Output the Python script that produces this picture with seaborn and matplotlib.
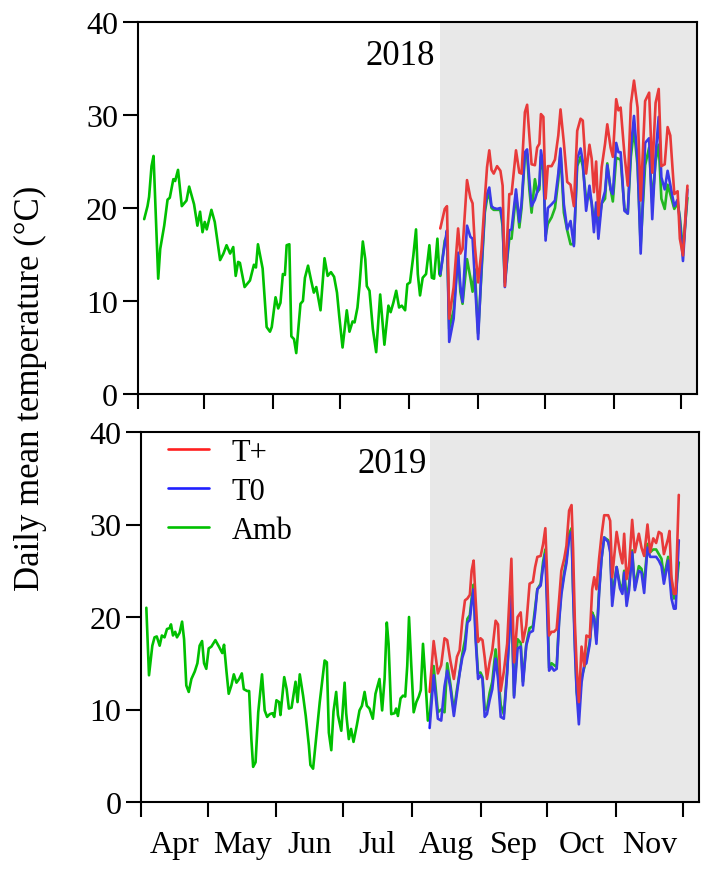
import matplotlib
matplotlib.use("Agg")
import matplotlib.pyplot as plt
import seaborn as sns
import pandas as pd

# x axis = days since 1 April
months = ["Apr", "May", "Jun", "Jul", "Aug", "Sep", "Oct", "Nov"]
month_starts = [0, 30, 61, 91, 122, 153, 183, 214, 244]
month_mids = [15, 45.5, 76, 106.5, 137.5, 168, 198.5, 229]

# ---------------- 2018 ----------------
amb18_pre_day = [3.0, 4.5, 5.2, 6.3, 7.2, 9.3, 10.2, 12, 13.5, 14.5, 16.1, 16.9, 18.2, 19.9, 22,
                 23.2, 25.4, 26.9, 28.1, 29.2, 30.2, 31.1, 33.2, 34.7, 37.1, 38.6, 40, 41.6, 43,
                 44.1, 45.2, 46, 48.1, 50.5, 52.3, 53.2, 54.1, 56.2, 58, 59.5, 60.3, 62, 63.2, 64.2,
                 65.3, 66.2, 67, 68.2, 69.1, 70.3, 71.3, 73.2, 74.3, 75.2, 76.6, 78, 79.2, 80.3,
                 82.2, 84, 85.4, 86.9, 88.3, 89.6, 90.6, 92.1, 94, 95.2, 96.6, 97.5, 98.8, 99.7,
                 101.2, 102.3, 103, 104.2, 105.7, 107.2, 109, 110.9, 112.7, 113.7, 114.9, 116.2,
                 117.5, 118.7, 120.2, 121.2, 122.4, 123.9, 125.1, 125.9, 126.9, 128.1, 129.6,
                 131.1, 132.2, 133.2, 134.7, 135.6]
amb18_pre = [18.8, 20.2, 21.2, 24.5, 25.6, 12.4, 15.6, 18.1, 20.9, 21.1, 23.1, 22.9, 24.1, 20.2, 20.8,
             22.3, 20.4, 18.1, 19.6, 17.4, 18.5, 17.7, 19.8, 18.5, 14.4, 15.1, 16.0, 15.1, 15.8,
             12.7, 14.2, 14.1, 11.5, 12.2, 13.9, 13.6, 16.1, 13.5, 7.2, 6.7, 7.2, 10.4, 9.2, 9.8,
             12.9, 12.8, 16.0, 16.1, 6.2, 5.9, 4.4, 9.7, 10.0, 12.5, 13.8, 12.2, 10.9, 11.5,
             9.0, 14.6, 12.7, 13.1, 12.6, 10.9, 8.4, 5.0, 9.0, 6.7, 7.8, 7.7, 9.3, 11.6,
             16.4, 14.5, 11.6, 11.1, 7.0, 4.5, 10.7, 5.3, 9.5, 8.8, 9.8, 11.1,
             9.3, 9.5, 9.0, 11.8, 12.0, 14.9, 17.7, 12.9, 10.6, 12.5, 12.9,
             16.0, 12.5, 12.4, 16.7, 12.9]

warm18_day = [136, 138, 139, 140, 142, 144, 145, 146, 148, 149.5, 150.5, 151.5, 153, 154.5, 156,
              157, 158, 159, 160, 161.5, 163, 164, 165, 167, 168, 170, 171.5, 172.5, 174, 175,
              176, 177, 178.5, 179.5, 180.5, 181.2, 182.3, 183.3, 184.3, 186, 187.5, 189, 190,
              191.5, 193, 194.5, 196, 197.5, 199, 200, 201.5, 203, 204, 205, 206, 207, 208.5,
              210, 211, 212.5, 213.5, 215, 216, 217, 218.7, 220.2, 221.6, 223, 224.6, 226, 228,
              229.8, 231.2, 232.7, 234.1, 235.3, 236.8, 238.1, 239.3, 241.1, 242.6, 243.6, 245, 247]
tplus18 = [17.8, 19.9, 20.2, 8.1, 11.5, 17.8, 15.1, 15.6, 23.0, 21.1, 20.5, 16.0, 12.0, 15.5, 21.0,
           24.4, 26.2, 24.1, 23.7, 24.5, 24.0, 22.4, 11.6, 21.5, 21.5, 26.2, 23.8, 23.7, 30.3, 31.1,
           27.8, 24.7, 24.6, 26.5, 26.9, 30.1, 29.8, 21.0, 24.5, 24.5, 25.2, 27.8, 30.6,
           27.0, 22.8, 22.5, 20.2, 28.3, 29.6, 29.4, 23.7, 26.8, 25.3, 21.7, 25.0, 19.2, 24.4,
           26.9, 29.0, 26.5, 25.5, 31.7, 30.5, 30.8, 25.8, 22.4, 31.2, 33.7, 30.8, 20.8, 31.5,
           32.4, 23.8, 31.3, 32.8, 24.5, 24.7, 28.7, 27.8, 21.5, 21.8, 16.7, 14.9, 22.4]
t018 = [12.9, 16.1, 17.6, 5.6, 8.1, 15.2, 11.6, 9.9, 18.1, 16.9, 16.7, 12.4, 5.9, 13.5, 20.0,
        21.5, 22.2, 20.2, 20.0, 19.9, 20.0, 18.5, 11.5, 17.6, 17.7, 22.0, 18.5, 20.5, 26.0, 26.3,
        23.0, 20.2, 20.9, 21.7, 22.5, 26.2, 24.5, 16.5, 20.0, 20.4, 20.8, 23.7, 26.4,
        20.4, 17.7, 18.6, 15.9, 25.3, 26.4, 25.0, 19.7, 22.4, 20.5, 17.4, 20.6, 16.7, 20.5,
        21.8, 24.6, 22.0, 21.5, 27.0, 26.0, 26.0, 19.7, 19.4, 26.5, 29.9, 25.1, 15.1, 27.0,
        27.5, 18.8, 25.7, 29.8, 23.3, 22.0, 24.0, 22.5, 20.2, 20.9, 18.6, 14.3, 22.0]
amb18_warm = [12.7, 16.5, 17.0, 7.0, 9.0, 15.0, 11.0, 9.7, 14.5, 12.5, 11.0, 13.4, 6.5, 13.0, 19.5,
              21.0, 21.5, 20.0, 19.8, 19.8, 19.8, 18.0, 12.0, 16.7, 16.7, 21.5, 17.9, 20.0, 25.6, 25.8,
              22.0, 19.5, 23.1, 21.7, 22.0, 25.5, 24.0, 17.0, 18.3, 19.0, 20.0, 23.0, 26.0,
              19.5, 17.6, 16.1, 16.1, 24.5, 25.5, 24.5, 20.9, 21.5, 20.5, 18.5, 20.0, 18.0, 20.5,
              21.0, 24.8, 22.0, 20.7, 25.4, 25.3, 25.2, 20.0, 19.4, 25.5, 28.5, 24.5, 16.0, 24.6,
              26.5, 20.5, 25.0, 26.8, 21.0, 19.9, 22.5, 21.5, 19.9, 20.5, 19.0, 15.4, 21.1]
shade18_start = 136

# ---------------- 2019 ----------------
amb19_pre_day = [2.4, 3.6, 5.1, 6.1, 7.1, 8.4, 9.4, 10.6, 11.7, 12.9, 13.5, 14.4, 15.4, 16.2, 17.4,
                 18.5, 19.4, 20.4, 21.5, 22.7, 24.2, 25.4, 26.4, 27.5, 28.4, 29.4, 30.5, 31.7,
                 33.5, 35.1, 36.6, 37.4, 38.5, 39.5, 40.7, 41.8, 43, 44.2, 45.4, 46.3, 47.8, 48.7,
                 49.7, 50.5, 51.6, 52.8, 54.5, 55.7, 56.8, 58, 59.2, 60, 61, 62.2, 62.8, 64.5,
                 65.6, 66.6, 67.8, 69.6, 70.5, 71.5, 73, 74.2, 75.6, 76.3, 77.5, 79, 80.5, 82.7,
                 83.7, 84.6, 85.7, 86.7, 87.9, 88.7, 90.2, 91.7, 92.4, 93.6, 94.6, 95.7, 97.2,
                 98.4, 99.5, 100.7, 101.7, 102.9, 104.4, 105.6, 107.4, 108.6, 109.7, 110.7,
                 111.5, 112.7, 114.2, 114.9, 115.7, 116.9, 118, 119, 119.9, 120.7, 121.7, 122.8,
                 124, 125.1, 126, 127, 128.2, 129.2]
amb19_pre = [21.0, 13.7, 16.9, 17.8, 17.9, 16.9, 18.0, 17.8, 18.7, 18.8, 19.2, 18.0, 18.4, 17.8, 18.3,
             19.5, 17.6, 12.6, 11.9, 13.3, 14.1, 15.0, 16.9, 17.4, 15.0, 14.4, 16.6, 16.8,
             17.5, 16.8, 16.1, 17.0, 14.1, 11.7, 12.6, 13.8, 12.9, 13.3, 13.9, 12.2, 12.0, 12.0,
             6.8, 3.8, 4.3, 9.7, 13.8, 9.9, 9.2, 9.5, 9.6, 9.2, 11.0, 10.8, 9.4, 13.5,
             12.2, 10.1, 10.2, 13.0, 10.8, 13.8, 11.5, 9.3, 6.1, 4.0, 3.6, 7.2, 10.8, 15.3,
             15.1, 7.5, 5.6, 9.8, 11.9, 9.4, 7.7, 12.9, 9.6, 6.8, 7.9, 6.5, 8.3,
             9.9, 10.4, 11.9, 10.4, 10.1, 9.0, 11.7, 13.3, 9.9, 13.3, 19.4,
             17.1, 9.5, 9.6, 10.1, 9.3, 11.2, 11.5, 11.4, 14.7, 20.0, 14.9, 9.7,
             10.8, 11.4, 12.1, 17.1, 12.7, 8.8]

warm19_day = [130, 131.8, 133.7, 135.2, 136.7, 137.9, 139.3, 140.9, 142.3, 143.5, 144.7, 145.9,
              147, 148.1, 148.9, 149.8, 150.7, 151.8, 152.9, 153.8, 154.8, 155.8, 157, 158.2,
              159.7, 160.8, 162, 163.4, 164.9, 166.8, 168, 169.6, 171, 172, 173.5, 175, 176.5,
              177.5, 178.5, 180, 181.1, 182.1, 183, 183.8, 184.9, 186, 187.2, 188.3, 189.3,
              190.6, 191.6, 192.8, 193.9, 194.6, 195.4, 196.2, 197.2, 198.4, 199.6, 200.6,
              202.1, 203.2, 204.1, 205.1, 206.3, 207.4, 208.6, 210.4, 211.3, 212.2, 214.2,
              215.7, 216.8, 217.6, 218.7, 219.8, 221.2, 222.4, 224.2, 225.4, 226.6, 228.1,
              229.3, 230.7, 232, 233.2, 234.4, 235.5, 237.4, 238, 238.9, 240, 240.8, 242.2]
tplus19 = [11.9, 17.4, 13.9, 14.8, 17.7, 17.5, 15.3, 13.3, 15.7, 16.4, 19.6, 21.8,
           22.0, 22.4, 25.0, 26.1, 21.9, 17.3, 17.7, 17.5, 15.6, 13.3, 15.1, 16.4,
           19.6, 19.2, 12.0, 14.1, 17.1, 26.3, 15.1, 20.0, 20.5, 17.3, 19.1, 23.6, 23.8,
           25.4, 26.5, 26.6, 27.9, 29.6, 24.0, 18.0, 18.4, 18.4, 18.7, 21.9, 25.0,
           26.3, 27.7, 31.5, 32.1, 27.3, 19.4, 14.7, 10.8, 16.8, 14.7, 18.0,
           17.8, 23.0, 24.3, 23.0, 26.3, 28.8, 31.0, 31.0, 30.4, 24.3, 29.2,
           27.0, 25.8, 29.0, 24.1, 25.5, 30.5, 27.0, 29.0, 27.5, 26.6, 30.0,
           27.0, 28.5, 28.0, 29.2, 29.0, 26.8, 28.5, 29.3, 24.3, 22.5, 22.5, 33.2]
t019 = [8.0, 13.7, 9.0, 8.8, 12.5, 14.2, 12.4, 9.3, 11.8, 13.9, 15.6, 16.5,
        19.4, 19.7, 21.5, 23.0, 17.6, 13.3, 13.7, 13.3, 9.2, 9.5, 11.0, 12.2,
        15.5, 13.3, 9.2, 9.0, 13.9, 22.3, 11.3, 16.6, 16.8, 12.6, 16.9, 18.3, 18.5,
        20.5, 23.0, 23.4, 25.5, 26.8, 20.0, 14.2, 14.6, 14.2, 14.4, 19.5, 22.4,
        24.5, 25.8, 28.5, 29.2, 22.7, 16.5, 11.9, 8.4, 12.9, 14.8, 15.0,
        17.1, 20.2, 19.8, 17.1, 22.5, 26.3, 28.6, 28.1, 27.0, 21.2, 25.4,
        23.1, 22.5, 24.8, 21.2, 22.9, 27.0, 22.9, 25.0, 24.8, 22.6, 27.5,
        26.5, 26.5, 26.5, 26.1, 25.5, 23.6, 26.1, 24.5, 22.0, 20.9, 20.9, 28.3]
amb19_warm = [9.0, 14.7, 9.7, 10.0, 9.7, 15.0, 12.8, 9.8, 12.2, 14.0, 16.0, 17.5,
              19.8, 20.2, 22.0, 23.5, 18.0, 13.9, 14.0, 13.5, 10.0, 10.0, 11.8, 13.0,
              16.5, 14.0, 10.5, 9.5, 14.2, 22.0, 11.5, 17.6, 17.2, 13.0, 17.0, 18.8, 19.0,
              21.0, 23.0, 23.6, 26.0, 27.3, 21.5, 14.5, 15.0, 14.8, 14.6, 19.8, 22.8,
              24.8, 26.2, 29.0, 29.6, 23.0, 17.5, 12.0, 10.0, 13.5, 14.5, 15.5,
              17.3, 20.5, 20.0, 17.5, 22.8, 26.3, 28.6, 28.3, 27.3, 22.3, 25.4,
              23.5, 23.0, 25.0, 22.0, 23.5, 27.2, 23.2, 25.5, 25.2, 23.5, 27.9,
              27.0, 27.3, 27.3, 26.8, 26.3, 24.3, 26.5, 25.5, 24.0, 22.0, 22.5, 25.9]
shade19_start = 130

colors = {"T+": "#FF2020", "T0": "#2020FF", "Amb": "#00C000"}


def draw_panel(ax, pre_day, pre_amb, day, tplus, t0, amb_warm, shade_start, year, year_xy, show_legend):
    amb = pd.DataFrame({"day": list(pre_day) + list(day), "temp": list(pre_amb) + list(amb_warm)})
    tp = pd.DataFrame({"day": day, "temp": tplus})
    tz = pd.DataFrame({"day": day, "temp": t0})
    # green under blue under red
    sns.lineplot(data=amb, x="day", y="temp", color=colors["Amb"], lw=1.9, label="Amb",
                 estimator=None, sort=False, ax=ax)
    sns.lineplot(data=tz, x="day", y="temp", color=colors["T0"], lw=1.9, label="T0",
                 estimator=None, sort=False, ax=ax)
    sns.lineplot(data=tp, x="day", y="temp", color=colors["T+"], lw=1.9, label="T+",
                 estimator=None, sort=False, ax=ax)
    ax.axvspan(shade_start, 260, color="#999999", alpha=0.22, lw=0, zorder=3)

    ax.set_xlim(0, 251.3)
    ax.set_ylim(0, 40)
    ax.set_yticks([0, 10, 20, 30, 40])
    ax.set_xticks(month_starts)
    ax.set_xticklabels([])
    ax.set_xticks(month_mids, minor=True)
    ax.set_xlabel("")
    ax.set_ylabel("")
    ax.tick_params(axis="both", which="major", direction="out", length=10.5, width=1.5,
                   labelsize=23, color="black", labelcolor="black")
    ax.tick_params(axis="x", which="minor", length=0, labelsize=23, pad=20, labelcolor="black")
    for sp in ax.spines.values():
        sp.set_visible(True)
        sp.set_linewidth(1.5)
        sp.set_color("black")
        sp.set_zorder(5)
    ax.text(year_xy[0], year_xy[1], year, transform=ax.transAxes, ha="right", va="baseline",
            fontsize=25, color="black")

    handles, labels = ax.get_legend_handles_labels()
    if show_legend:
        order = [labels.index(k) for k in ["T+", "T0", "Amb"]]
        leg = ax.legend([handles[i] for i in order], [labels[i] for i in order],
                        loc="upper left", bbox_to_anchor=(0.048, 0.985), frameon=False,
                        fontsize=22, handlelength=1.35, handletextpad=0.75, labelspacing=0.33,
                        borderpad=0, borderaxespad=0)
        for t in leg.get_texts():
            t.set_color("black")
    else:
        ax.get_legend().remove()


def main():
    sns.set_theme(style="ticks")
    plt.rcParams["font.family"] = ["Liberation Serif", "DejaVu Serif"]
    plt.rcParams["text.color"] = "black"

    fig = plt.figure(figsize=(7.09, 8.70), dpi=100)
    ax1 = fig.add_axes([137.5 / 709, (870 - 395) / 870, (697 - 137.5) / 709, 372 / 870])
    ax2 = fig.add_axes([141 / 709, (870 - 803) / 870, (699 - 141) / 709, 370 / 870])

    draw_panel(ax1, amb18_pre_day, amb18_pre, warm18_day, tplus18, t018, amb18_warm,
               shade18_start, "2018", (0.532, 0.887), False)
    draw_panel(ax2, amb19_pre_day, amb19_pre, warm19_day, tplus19, t019, amb19_warm,
               shade19_start, "2019", (0.512, 0.891), True)
    ax1.set_xticklabels([], minor=True)
    ax2.set_xticklabels(months, minor=True)

    fig.text(30 / 709, 1 - 388 / 870, "Daily mean temperature (°C)", rotation=90,
             ha="center", va="center", fontsize=25, color="black")

    fig.savefig("out.png", dpi=100)


if __name__ == "__main__":
    main()
